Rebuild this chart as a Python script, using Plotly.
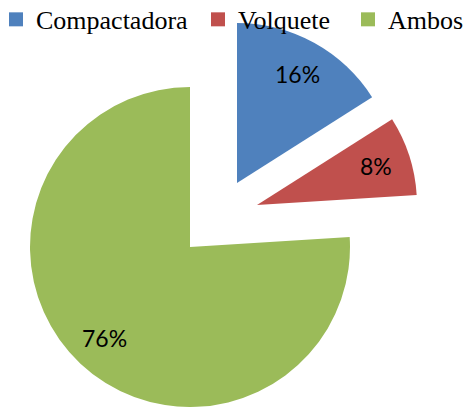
import math
import plotly.graph_objects as go

categorias = ["Compactadora", "Volquete", "Ambos"]
valores = [16, 8, 76]
colores = ["#4F81BD", "#C0504D", "#9BBB59"]

W, H = 466, 407
R = 160
# centro en px de cada porcion (separadas como en Excel)
centros = {"Compactadora": (237, 183), "Volquete": (257, 205), "Ambos": (190, 247)}
# posicion x (px) de cada entrada de la leyenda
leyenda_x = {"Compactadora": -4, "Volquete": 198, "Ambos": 348}
TRANSP = "rgba(0,0,0,0)"


def _dominio(cx, cy):
    return dict(
        x=[max(0, (cx - R) / W), min(1, (cx + R) / W)],
        y=[max(0, 1 - (cy + R) / H), min(1, 1 - (cy - R) / H)],
    )


fig = go.Figure()

# una torta por porcion, las demas porciones transparentes
for i, cat in enumerate(categorias):
    cols = [c if j == i else TRANSP for j, c in enumerate(colores)]
    fig.add_trace(go.Pie(
        labels=categorias, values=valores,
        marker=dict(colors=cols, line=dict(width=0)),
        textinfo="none",
        sort=False, direction="clockwise", rotation=0,
        domain=_dominio(*centros[cat]),
        showlegend=False, hoverinfo="skip",
    ))

# etiquetas de porcentaje a ~0.78 del radio, en el angulo medio de cada porcion
total = sum(valores)
acum = 0
for cat, v in zip(categorias, valores):
    ang = (acum + v / 2) / total * 2 * math.pi
    acum += v
    cx, cy = centros[cat]
    px = cx + 0.78 * R * math.sin(ang)
    py = cy - 0.78 * R * math.cos(ang)
    fig.add_annotation(
        x=px / W, y=1 - py / H, xref="paper", yref="paper",
        xanchor="center", yanchor="middle",
        text=f"{round(v / total * 100)}%", showarrow=False,
        font=dict(family="Lato", size=23, color="black"),
    )

# leyenda (una por entrada para ubicarlas como en el original)
for k, (cat, c) in enumerate(zip(categorias, colores)):
    lg = "legend" if k == 0 else f"legend{k + 1}"
    fig.add_trace(go.Scatter(
        x=[None], y=[None], mode="markers", name=cat, legend=lg,
        marker=dict(symbol="square", size=14, color=c),
    ))
    fig.update_layout({lg: dict(
        x=leyenda_x[cat] / W, xanchor="left", y=1.01, yanchor="top",
        font=dict(family="Liberation Serif", size=26, color="black"),
        bgcolor="rgba(0,0,0,0)", itemwidth=30,
    )})

fig.update_layout(
    width=W, height=H,
    margin=dict(l=0, r=0, t=0, b=0, autoexpand=False),
    template="plotly_white",
    xaxis=dict(visible=False), yaxis=dict(visible=False),
    hovermode=False,
)

fig.write_html(
    "out.html",
    config={"displayModeBar": False},
    post_script="document.body.style.margin = '0';",
)
